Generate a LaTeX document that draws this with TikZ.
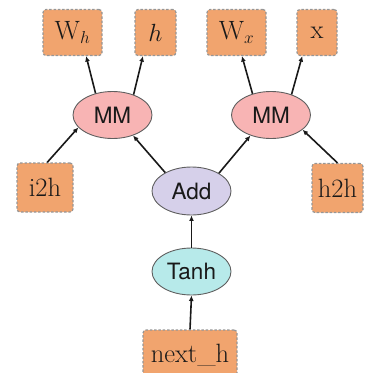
\documentclass[tikz,border=0pt]{standalone}
\usepackage{fontspec}
\newfontfamily\heros{TeX Gyre Heros}
\usetikzlibrary{shapes.geometric,arrows.meta}
\definecolor{boxfill}{RGB}{241,164,110}
\definecolor{boxline}{RGB}{150,150,150}
\definecolor{mmfill}{RGB}{248,180,180}
\definecolor{addfill}{RGB}{214,208,234}
\definecolor{tanhfill}{RGB}{183,234,234}
\definecolor{elline}{RGB}{95,95,95}
\definecolor{txt}{RGB}{25,25,25}
\tikzset{
  varbox/.style={draw=boxline, fill=boxfill, dashed, dash pattern=on 2.5pt off 1.8pt, line width=1.2pt,
    rounded corners=3pt, minimum height=46pt, inner sep=0pt, text=txt,
    font=\fontsize{26.5}{28}\selectfont},
  opnode/.style={ellipse, draw=elline, line width=0.9pt, minimum width=79pt, minimum height=47pt,
    inner sep=0pt, text=txt, font=\heros\fontsize{22.5}{24}\selectfont},
  edge/.style={line width=1.6pt, draw=black!90, -{Latex[length=5.5pt,width=5pt]}}
}
\begin{document}
\begin{tikzpicture}[x=1pt,y=-1pt]
\useasboundingbox (0,0) rectangle (371,373);
\node[varbox, minimum width=59pt] (wh) at (72.5,32.5) {$\mathrm{W}_h$};
\node[varbox, minimum width=41pt] (h) at (155.5,32.5) {$h$};
\node[varbox, minimum width=59pt] (wx) at (236.5,32.5) {$\mathrm{W}_x$};
\node[varbox, minimum width=40pt] (x) at (317,32.5) {x};
\node[opnode, fill=mmfill] (mml) at (112.5,115) {MM};
\node[opnode, fill=mmfill] (mmr) at (271,115) {MM};
\node[varbox, minimum width=56pt, minimum height=49pt] (i2h) at (45,187.5) {i2h};
\node[varbox, minimum width=51pt, minimum height=49pt] (h2h) at (337.5,188) {h2h};
\node[opnode, fill=addfill, minimum height=48pt] (add) at (191.5,191) {Add};
\node[opnode, fill=tanhfill] (tanh) at (191.5,271.5) {Tanh};
\node[varbox, minimum width=94pt, minimum height=50pt] (nh) at (190,355) {next\_h};
\draw[edge] (mml.128) -- (wh.-60);
\draw[edge] (mml.44) -- (h.-118);
\draw[edge] (mmr.131) -- (wx.-77);
\draw[edge] (mmr.45) -- (x.-122);
\draw[edge] (i2h.85) -- (mml.-160);
\draw[edge] (add.145) -- (mml.-45);
\draw[edge] (add.33) -- (mmr.-135);
\draw[edge] (h2h.north) -- (mmr.-25);
\draw[edge] (tanh.north) -- (add.south);
\draw[edge] (nh.north) -- (tanh.south);
\end{tikzpicture}
\end{document}
